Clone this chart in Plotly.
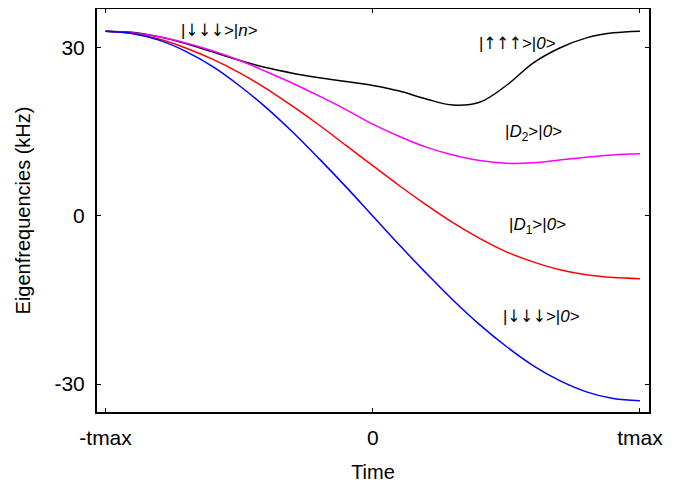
import plotly.graph_objects as go

t = [-1.0, -0.9, -0.8, -0.7, -0.6, -0.5, -0.4, -0.3, -0.2, -0.1, 0.0,
     0.1, 0.2, 0.3, 0.4, 0.5, 0.6, 0.7, 0.8, 0.9, 1.0]

black = [33.0, 32.8, 32.0, 30.8, 29.3, 27.8, 26.5, 25.5, 24.7, 24.0, 23.3,
         22.3, 20.9, 19.8, 20.3, 23.3, 27.3, 30.0, 31.8, 32.7, 33.0]
magenta = [33.0, 32.7, 32.0, 30.9, 29.5, 27.8, 25.8, 23.7, 21.4, 19.0, 16.4,
           14.2, 12.3, 10.9, 9.9, 9.4, 9.5, 10.0, 10.5, 10.9, 11.1]
red = [33.0, 32.6, 31.6, 30.0, 28.0, 25.6, 22.8, 19.6, 16.2, 12.6, 9.0,
       5.4, 2.0, -1.2, -4.0, -6.4, -8.2, -9.6, -10.5, -11.0, -11.2]
blue = [33.0, 32.6, 31.4, 29.4, 26.7, 23.3, 19.4, 15.0, 10.2, 5.2, 0.0,
        -5.2, -10.2, -15.0, -19.4, -23.3, -26.7, -29.4, -31.4, -32.6, -33.0]

x_tick_vals = [-1, 0, 1]
x_tick_text = ["-tmax", "0", "tmax"]
y_tick_vals = [-30, 0, 30]
y_tick_text = ["-30", "0", "30"]

DOWN = '<span style="font-family:DejaVu Sans Condensed">↓↓↓</span>'
UP = '<span style="font-family:DejaVu Sans Condensed">↑↑↑</span>'
labels = ["|" + DOWN + ">|<i>n</i>>", "|" + UP + ">|<i>0</i>>",
          "|<i>D</i><sub>2</sub>>|<i>0</i>>",
          "|<i>D</i><sub>1</sub>>|<i>0</i>>", "|" + DOWN + ">|<i>0</i>>"]
label_x = [-0.575, 0.54, 0.60, 0.615, 0.63]
label_y = [33.2, 30.9, 14.8, -1.8, -17.9]

FONT = "Liberation Sans, Arial, sans-serif"

fig = go.Figure()
for ys, col in [(black, "black"), (magenta, "#ff00ff"), (red, "#ff0000"), (blue, "#0000ff")]:
    fig.add_trace(go.Scatter(x=t, y=ys, mode="lines", line=dict(color=col, width=1.5, shape="spline"),
                             showlegend=False, hoverinfo="skip"))

for txt, lx, ly in zip(labels, label_x, label_y):
    fig.add_annotation(x=lx, y=ly, text=txt, showarrow=False, xref="x", yref="y",
                       font=dict(size=17, color="black", family=FONT))

fig.update_layout(
    width=668, height=475,
    margin=dict(l=89, r=27, t=1, b=71),
    paper_bgcolor="white", plot_bgcolor="white",
    font=dict(family=FONT, size=21, color="black"),
)
fig.update_xaxes(range=[-1.032, 1.034], tickvals=x_tick_vals, ticktext=x_tick_text,
                 ticks="inside", ticklen=4, tickwidth=1, tickcolor="black",
                 showline=True, linewidth=2, linecolor="black", mirror="ticks",
                 showgrid=False, zeroline=False, automargin=False, ticklabelstandoff=6,
                 title=dict(text="Time", font=dict(size=20), standoff=22))
fig.update_yaxes(range=[-35.0, 36.96], tickvals=y_tick_vals, ticktext=y_tick_text,
                 ticks="inside", ticklen=4, tickwidth=1, tickcolor="black",
                 showline=True, linewidth=2, linecolor="black", mirror="ticks",
                 showgrid=False, zeroline=False, automargin=False, ticklabelstandoff=6,
                 title=dict(text="Eigenfrequencies (kHz)", font=dict(size=20), standoff=18))

fig.write_html("out.html")
